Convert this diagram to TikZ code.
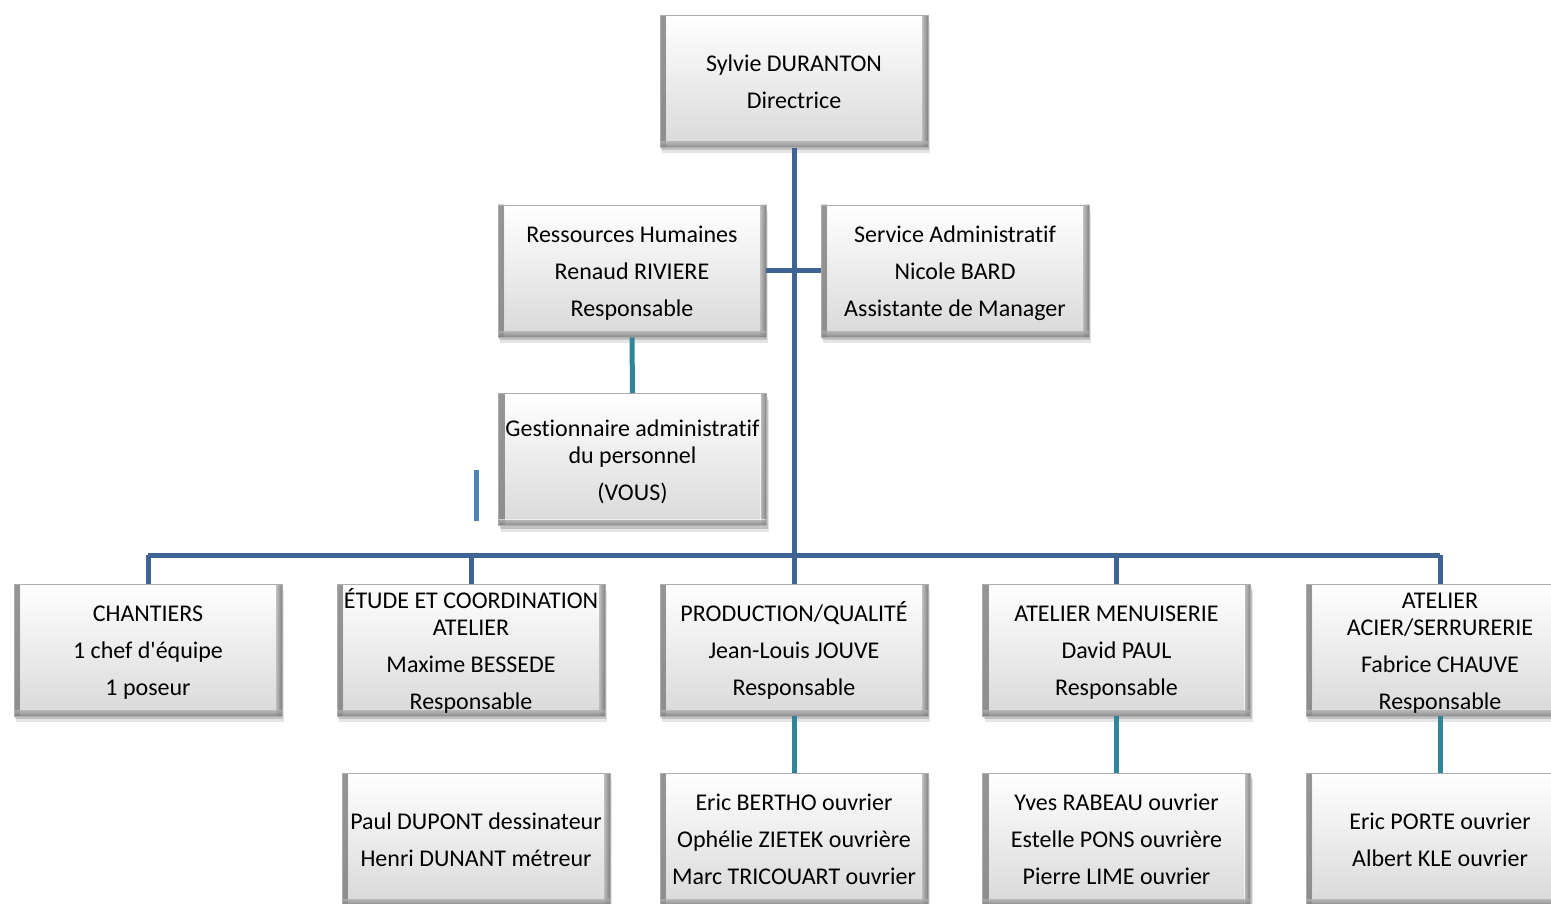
\documentclass[tikz,border=0pt]{standalone}
\usepackage{fontspec}
\setmainfont{Carlito}[Ligatures={NoCommon}]
\usetikzlibrary{shadows}
\definecolor{mainblue}{RGB}{62,100,150}
\definecolor{tealline}{RGB}{49,133,155}
\definecolor{strayblue}{RGB}{79,129,189}
\newcommand\orgfont{\fontsize{24}{37}\selectfont}
\newcommand\tp{\rule{0pt}{23pt}}
\newcommand\bp{\rule[-6pt]{0pt}{6pt}}
\tikzset{
  orgbox/.style={rectangle, minimum width=268pt, minimum height=132pt, inner sep=0pt,
    draw=black!32, line width=0.8pt, top color=white, bottom color=black!15,
    drop shadow={shadow xshift=1pt, shadow yshift=-3pt, fill=black, opacity=0.15},
    drop shadow={shadow xshift=2pt, shadow yshift=-6pt, fill=black, opacity=0.10},
    align=center, font=\orgfont,
    path picture={
      \fill[left color=black!30, right color=white, opacity=0.55]
        (path picture bounding box.south west) rectangle ([xshift=6pt]path picture bounding box.north west);
      \fill[left color=white, right color=black!40, opacity=0.6]
        ([xshift=-6pt]path picture bounding box.south east) rectangle (path picture bounding box.north east);
      \fill[top color=white, bottom color=black!30, opacity=0.55]
        (path picture bounding box.south west) rectangle ([yshift=6pt]path picture bounding box.south east);
    }},
  mainline/.style={draw=mainblue, line width=5pt},
  subline/.style={draw=tealline, line width=5pt},
  strayline/.style={draw=strayblue, line width=5pt}
}
\begin{document}
\begin{tikzpicture}[x=1pt,y=-1pt]
\useasboundingbox (0,0) rectangle (1551,904);
\clip (0,0) rectangle (1551,904);
\fill[white] (0,0) rectangle (1551,904);

\coordinate (bus) at (794,555);
\coordinate (s1) at (476,470);
\coordinate (s2) at (476,521);

\node[orgbox] (top) at (794,81.5) {\tp Sylvie DURANTON\\Directrice\bp};
\node[orgbox] (rh) at (632,271) {\tp Ressources Humaines\\Renaud RIVIERE\\Responsable\bp};
\node[orgbox] (sa) at (955,271) {\tp Service Administratif\\Nicole BARD\\Assistante de Manager\bp};
\node[orgbox] (gest) at (632.5,459.5) {\tp Gestionnaire administratif\\[-10pt]du personnel\\(VOUS)\bp};

\node[orgbox] (chan) at (148,650) {\tp CHANTIERS\\1 chef d\textquotesingle équipe\\1 poseur\bp};
\node[orgbox] (etude) at (471,650) {\tp ÉTUDE ET COORDINATION\\[-10pt]ATELIER\\Maxime BESSEDE\\Responsable\bp};
\node[orgbox] (prod) at (794,650) {\tp PRODUCTION/QUALITÉ\\Jean-Louis JOUVE\\Responsable\bp};
\node[orgbox] (menu) at (1116.5,650) {\tp ATELIER MENUISERIE\\David PAUL\\Responsable\bp};
\node[orgbox] (acier) at (1440,650) {\tp ATELIER\\[-10pt]ACIER/SERRURERIE\\Fabrice CHAUVE\\Responsable\bp};

\node[orgbox] (paul) at (476,839) {\tp Paul DUPONT dessinateur\\Henri DUNANT métreur\bp};
\node[orgbox] (eric) at (794,839) {\tp Eric BERTHO ouvrier\\Ophélie ZIETEK ouvrière\\Marc TRICOUART ouvrier\bp};
\node[orgbox] (yves) at (1116.5,839) {\tp Yves RABEAU ouvrier\\Estelle PONS ouvrière\\Pierre LIME ouvrier\bp};
\node[orgbox] (porte) at (1440,839) {\tp Eric PORTE ouvrier\\Albert KLE ouvrier\bp};

\draw[mainline] (top.south) -- (bus);
\draw[mainline] (rh.east) -- (sa.west);
\draw[mainline] (chan.north |- bus) -- (acier.north |- bus);
\foreach \n in {chan,etude,prod,menu,acier} {\draw[mainline] (\n.north |- bus) -- (\n.north);}

\draw[subline] (rh.south) -- (gest.north);
\draw[subline] (prod.south) -- (eric.north);
\draw[subline] (menu.south) -- (yves.north);
\draw[subline] (acier.south) -- (porte.north);

\draw[strayline] (s1) -- (s2);
\end{tikzpicture}
\end{document}
